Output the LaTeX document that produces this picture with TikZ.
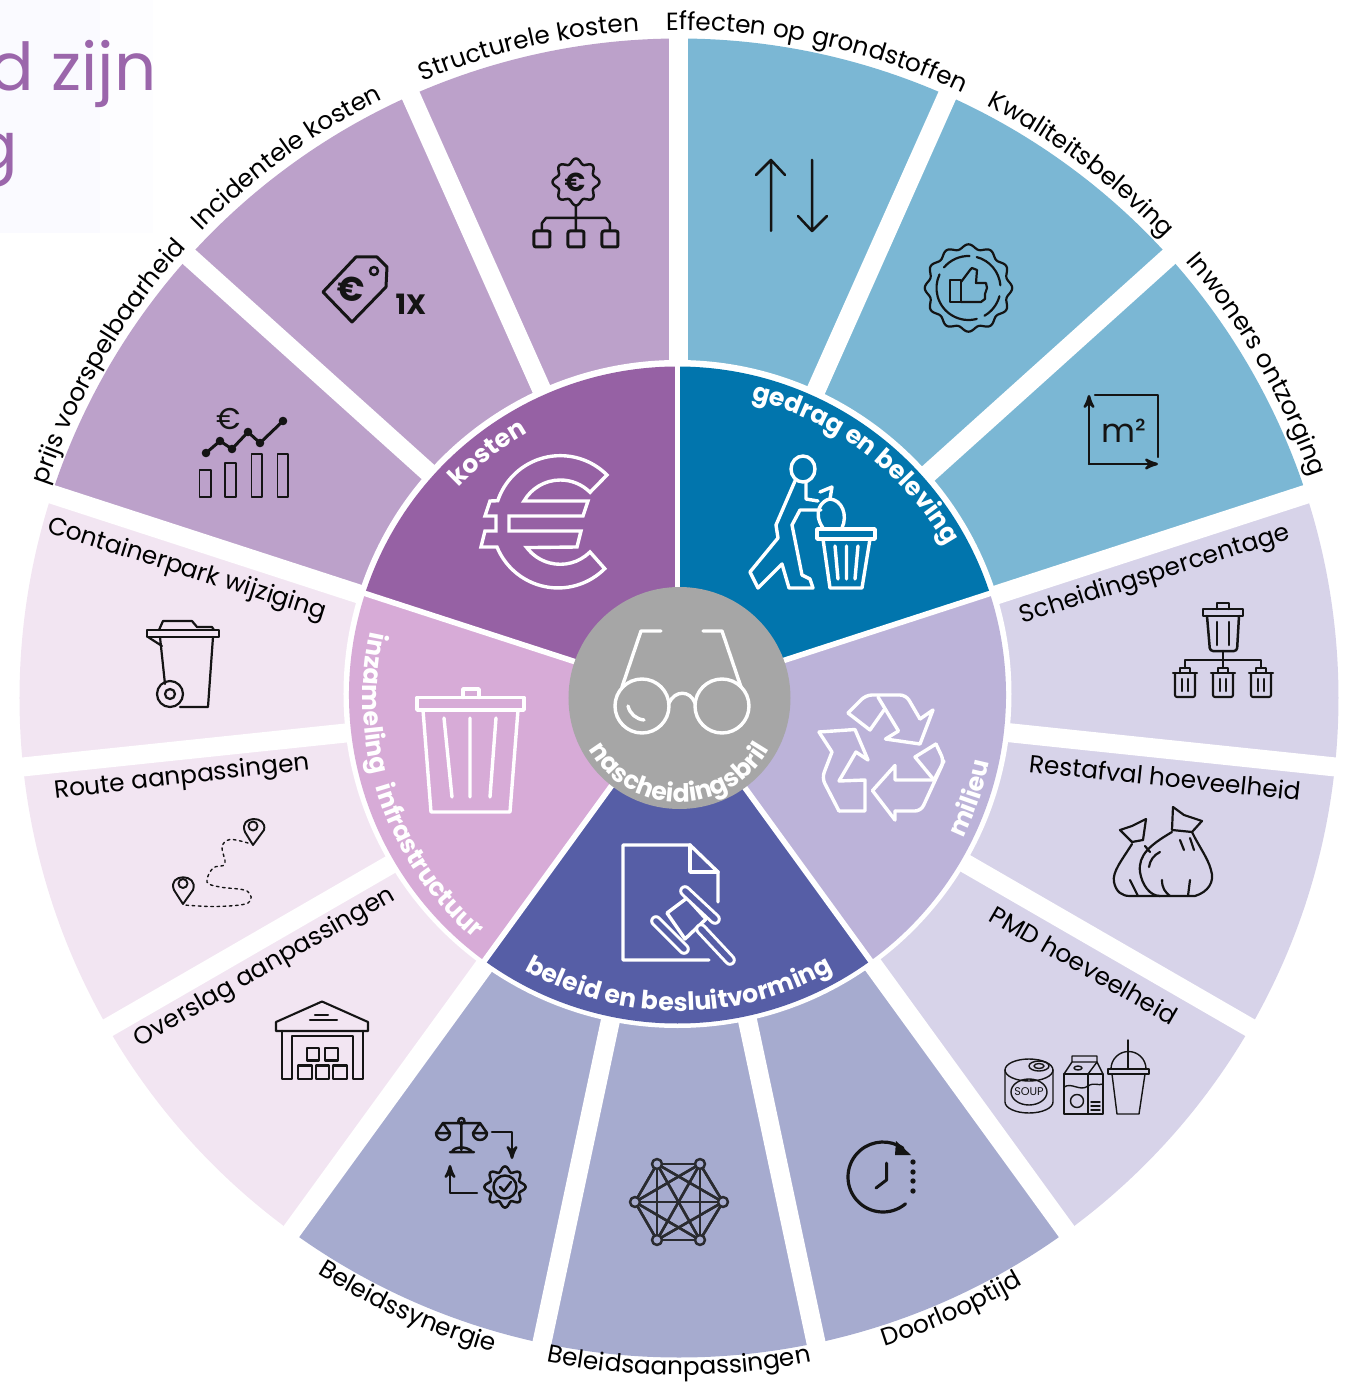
\documentclass[tikz,border=0pt]{standalone}
\usepackage{fontspec}
\setmainfont{Poppins}
\usetikzlibrary{calc,arrows,decorations.text}

\definecolor{kostin}{HTML}{9661A4}
\definecolor{kostcell}{HTML}{BCA1CA}
\definecolor{gedin}{HTML}{0175AD}
\definecolor{gedcell}{HTML}{7BB7D4}
\definecolor{milin}{HTML}{BCB3D9}
\definecolor{milcell}{HTML}{D7D3E9}
\definecolor{belin}{HTML}{565EA6}
\definecolor{belcell}{HTML}{A6ABCF}
\definecolor{inzin}{HTML}{D7ABD7}
\definecolor{inzcell}{HTML}{F2E5F2}
\definecolor{brilgray}{HTML}{A6A6A6}
\definecolor{titlepurple}{HTML}{9B66AB}
\definecolor{inkblack}{HTML}{141414}

% text along an arc: radius, start angle, end angle, format, text
\newcommand{\arclabel}[5]{%
  \path[decorate,decoration={text along path,text align=center,
    text={|#4|#5}}] (#2:#1) arc[start angle=#2,end angle=#3,radius=#1];}
\newcommand{\outerfont}{\fontsize{12.4}{14}\selectfont\color{black}}
\newcommand{\innerfont}{\fontsize{12.6}{14}\selectfont\bfseries\color{white}}

\begin{document}
\begin{tikzpicture}[
    x = 0.5pt,
    y = 0.5pt,
    >=stealth',
    gapline/.style = {white, line width = 9.5pt},
    seamline/.style = {white, line width = 2.8pt},
    icon/.style = {draw = inkblack, line width = 1.25pt, line cap = round, line join = round},
    thinicon/.style = {draw = inkblack, line width = 0.7pt, line cap = round, line join = round},
    wicon/.style = {draw = white, line width = 1.7pt, line join = round, line cap = round},
    celltext/.style = {font = \fontsize{12.4}{14}\selectfont, text = black, inner sep = 0pt},
    pixel/.style = {shift = {(-679,698)}, yscale = -1}
  ]
  \useasboundingbox (-679,-684) rectangle (673,698);
  \coordinate (O) at (0,0);
  \coordinate (H) at (-1.5,3);

  % faint panel and title behind the wheel
  \begin{scope}[pixel]
    \fill[white!97!blue!60!white] (0,0) rectangle (100,233);
    \fill[white!98.5!blue!60!white] (100,0) rectangle (153,233);
    \node[anchor = base east, text = titlepurple, font = \fontsize{33}{36}\selectfont, inner sep = 0pt] (titleone) at (157,91) {d zijn};
    \node[anchor = base east, text = titlepurple, font = \fontsize{33}{36}\selectfont, inner sep = 0pt] (titletwo) at (19,170) {g};
  \end{scope}

  % outer cells
  \foreach \a/\col in {90/kostcell,114/kostcell,138/kostcell,162/inzcell,186/inzcell,210/inzcell,
      234/belcell,258/belcell,282/belcell,306/milcell,330/milcell,354/milcell,18/gedcell,42/gedcell,66/gedcell}
    \fill[\col] (\a:320) arc[start angle=\a,delta angle=24,radius=320]
      -- ({\a+24}:659.5) arc[start angle={\a+24},delta angle=-24,radius=659.5] -- cycle;
  \foreach \a in {18,42,...,354}
    \draw[gapline] (\a:320) -- (\a:672);
  \fill[white] (-1.5,4) circle[radius=334];

  % inner sectors
  \foreach \a/\col in {90/kostin,162/inzin,234/belin,306/milin,18/gedin}
    \fill[\col] (H) -- ++(\a:328.5) arc[start angle=\a,delta angle=72,radius=328.5] -- cycle;
  \foreach \a in {18,90,162,234,306}
    \draw[seamline] (H) -- ++(\a:334);
  \fill[brilgray] (0.5,0) circle[radius=111];

  % labels on the rim
  \arclabel{668}{143}{63}{\outerfont}{Structurele kosten}
  \arclabel{668}{118}{38}{\outerfont}{Effecten op grondstoffen}
  \arclabel{668}{93}{13}{\outerfont}{Kwaliteitsbeleving}
  \arclabel{669}{70}{-10}{\outerfont}{Inwoners ontzorging}
  \arclabel{667}{190}{109}{\outerfont}{prijs voorspelbaarheid}
  \arclabel{668}{166}{86}{\outerfont}{Incidentele kosten}
  \arclabel{680}{206}{286}{\outerfont}{Beleidssynergie}
  \arclabel{677}{230}{310}{\outerfont}{Beleidsaanpassingen}
  \arclabel{680}{254}{334}{\outerfont}{Doorlooptijd}

  % labels in the sectors
  \arclabel{305}{178}{78}{\innerfont}{kosten}
  \arclabel{307}{103}{3}{\innerfont}{gedrag en beleving}
  \arclabel{317}{-60}{22}{\innerfont}{milieu}
  \arclabel{313}{222}{318}{\innerfont}{beleid en besluitvorming}
  \arclabel{316}{131}{231}{\innerfont}{inzameling}
  \arclabel{316}{163}{263}{\innerfont}{infrastructuur}
  \arclabel{104}{190}{350}{\innerfont}{nascheidingsbril}

  \begin{scope}[pixel]
    % labels inside the cells
    \node[celltext, rotate = -17.5] (containerlab) at (187,570) {Containerpark wijziging};
    \node[celltext, rotate = 6.5] (routelab) at (182,778) {Route aanpassingen};
    \node[celltext, rotate = 30] (overslaglab) at (265,968) {Overslag aanpassingen};
    \node[celltext, rotate = 17.5] (scheidinglab) at (1155,575) {Scheidingspercentage};
    \node[celltext, rotate = -6] (restlab) at (1165,777) {Restafval hoeveelheid};
    \node[celltext, rotate = -30] (pmdlab) at (1084,965) {PMD hoeveelheid};

    % euro sign
    \draw[wicon, line join = miter] (607,475) arc[start angle=-45,end angle=-161.5,radius=66]
      -- (490,501) -- (485,516) -- (496,516) -- (496,531) -- (485,531) -- (481,547) -- (497,547)
      arc[start angle=157.7,end angle=45,radius=66] -- (590,552)
      arc[start angle=45,end angle=143,radius=42] -- (577,547) -- (581,531) -- (509,531) -- (509,516)
      -- (583,516) -- (588,501) -- (524,501) arc[start angle=-150,end angle=-45,radius=42] -- cycle;

    % person with bag and bin
    \draw[wicon] (803,469) ellipse[x radius=12,y radius=13];
    \draw[wicon] (795,481) -- (776,525) -- (778,538) -- (750,572) -- (758,588) -- (782,564) -- (789,588)
      -- (813,588) -- (810,579) -- (802,575) -- (792,525) -- (800,510) -- (821,510);
    \draw[wicon] (806,482) -- (806,499) -- (818,501);
    \draw[wicon] (823,528) .. controls (812,512) and (822,500) .. (830,499) .. controls (842,500) and (848,515) .. (842,528);
    \draw[wicon] (820,492) -- (832,487) -- (830,499);
    \draw[wicon] (817,529) rectangle (875,539);
    \draw[wicon] (823,539) -- (830,588) -- (862,588) -- (870,539);
    \draw[wicon] (835,546) -- (838,579) (846.5,546) -- (846.5,579) (858,546) -- (855,579);

    % glasses
    \draw[wicon] (642,706) circle[radius=27] (722,706) circle[radius=27];
    \draw[wicon] (669,703) .. controls (675,690) and (690,690) .. (695,703);
    \draw[wicon] (622,687) -- (641,631) -- (661,631);
    \draw[wicon] (741,687) -- (722,631) -- (703,631);
    \draw[wicon] (628,706) .. controls (630,714) and (636,719) .. (644,720);

    % recycling arrows
    \draw[wicon, rounded corners = 3pt] (848,713) -- (866,695) -- (906,695) -- (920,719);
    \draw[wicon] (920,719) -- (933,710) -- (920,744) -- (885.5,739) -- (898.5,731) -- (878,697);
    \draw[wicon] (848,713) -- (870,730) -- (884,710);
    \draw[wicon] (819,732) -- (855,729.5) -- (868,760) -- (856,752) -- (839,781);
    \draw[wicon, rounded corners = 3pt] (839,811) -- (822,778) -- (832,752);
    \draw[wicon] (832,752) -- (819,732) (839,781) -- (865,780) -- (865,811) -- (839,811);
    \draw[wicon] (872.5,790.6) -- (895,765.5) -- (895,780) -- (934,780);
    \draw[wicon] (934,780) -- (915,757) -- (936,744);
    \draw[wicon, rounded corners = 3pt] (936,744) -- (944,761) -- (921,811) -- (895,811);
    \draw[wicon] (895,811) -- (895,820) -- (872.5,790.6) (934,780) -- (944,761);

    % document with gavel
    \draw[wicon] (709,960) -- (623,960) -- (623,845) -- (690,845) -- (718,872) -- (718,902);
    \draw[wicon] (690,845) -- (690,872) -- (718,872);
    \fill[belin] (665,912) -- (688,892) -- (712,918) -- (690,942) -- cycle;
    \draw[wicon] (667,913) -- (687,898) -- (706,919) -- (685,939) -- cycle;
    \draw[white, line width = 5.8pt, line cap = round] (701,929) -- (730,960) (685,891) -- (715,919) (656,921) -- (684,949);
    \draw[belin, line width = 2.8pt, line cap = round] (701,929) -- (730,960) (685,891) -- (715,919) (656,921) -- (684,949);

    % dustbin
    \draw[wicon] (417,697.5) rectangle (524,710);
    \draw[wicon] (463,697.5) -- (463,689) -- (479,689) -- (479,697.5);
    \draw[wicon] (423,710) -- (431,812) -- (510,812) -- (518,710);
    \draw[wicon] (444,718) -- (452,797) (470,718) -- (470,797) (496,718) -- (490,797);

    % gear with euro above a tree
    \draw[icon, shift = {(576,182)}, domain = 0:360, samples = 97, smooth] plot (\x:{21+2.5*cos(8*\x)}) -- cycle;
    \node[inner sep = 0pt, text = inkblack, font = \fontsize{13}{14}\selectfont\bfseries] (gearEuro) at (575,182) {€};
    \draw[icon] (576,206) -- (576,230) (542,230) -- (542,223) -- (546,218) -- (606,218) -- (610,223) -- (610,230);
    \foreach \bx in {542,576,610}
      \draw[icon, line width = 1.5pt, rounded corners = 1pt] (\bx-8,231) rectangle (\bx+8,247);

    % price tag
    \draw[icon, line width = 1.5pt] (323,292) -- (356,257) -- (377,257) -- (387,267) -- (386,287) -- (352,322) -- cycle;
    \draw[icon] (374,271) circle[radius=4];
    \node[inner sep = 0pt, rotate = -10, text = inkblack, font = \fontsize{17}{18}\selectfont\bfseries] (tagEuro) at (351,289) {€};
    \node[inner sep = 0pt, text = inkblack, font = \fontsize{14}{15}\selectfont\bfseries] (onceLab) at (411,304) {1X};

    % price chart
    \node[inner sep = 0pt, text = inkblack, font = \fontsize{15}{16}\selectfont] (chartEuro) at (229,419) {€};
    \draw[icon, line width = 1.5pt] (206,453) -- (220,441) -- (232,449) -- (248,432) -- (260,443) -- (283,421);
    \foreach \px/\py in {206/453,220/441,232/449,248/432,260/443,283/421}
      \fill[inkblack] (\px,\py) circle[radius=4.3];
    \draw[thinicon] (199.5,470) rectangle (211,497) (225,463) rectangle (236,497)
      (251.5,454) rectangle (262,497) (277.5,454) rectangle (288,497);

    % arrows up and down
    \draw[icon] (771,231) -- (771,160) (756,175) -- (771,160) -- (785,175);
    \draw[icon] (812,160) -- (812,231) (798,216) -- (812,231) -- (827,216);

    % badge with thumb
    \draw[thinicon, line width = 1.1pt, shift = {(968.5,288)}, domain = 0:360, samples = 145, smooth] plot (\x:{41.5+2.2*cos(12*\x)}) -- cycle;
    \draw[thinicon, line width = 1.1pt] (968.5,288) ++(-75:32) arc[start angle=-75,end angle=-5,radius=32];
    \draw[thinicon, line width = 1.1pt] (968.5,288) ++(15:32) arc[start angle=15,end angle=60,radius=32];
    \draw[thinicon, line width = 1.1pt] (968.5,288) ++(75:32) arc[start angle=75,end angle=205,radius=32];
    \draw[thinicon, line width = 1.1pt] (968.5,288) ++(220:32) arc[start angle=220,end angle=272,radius=32];
    \draw[thinicon, line width = 1.1pt] (950,280) rectangle (961,302);
    \draw[thinicon, line width = 1.1pt] (961,282) -- (970,270) -- (972,268) -- (977,270) -- (976,283) -- (986,283) -- (987,288)
      -- (985,294) -- (985,299) -- (981,302) -- (961,302);

    % area
    \draw[icon, ->] (1089,464) -- (1089,395);
    \draw[icon, ->] (1089,464) -- (1158,464);
    \draw[icon] (1095,395) -- (1158,395) -- (1158,457);
    \node[inner sep = 0pt, text = inkblack, font = \fontsize{16.5}{18}\selectfont] (areaLab) at (1124,431) {m²};

    % bins in a tree
    \draw[icon] (1203,609) rectangle (1243,616);
    \draw[icon] (1217,609) -- (1217,603) -- (1229,603) -- (1229,609);
    \draw[icon, rounded corners = 1.5pt] (1207,616) -- (1210,651) -- (1237,651) -- (1239,616);
    \draw[icon] (1217,622) -- (1217,645) (1229,622) -- (1229,645);
    \draw[icon] (1223,651) -- (1223,668) (1185,668) -- (1185,660) -- (1261,660) -- (1261,668);
    \foreach \bx in {1185,1223,1261} {
      \draw[icon, line width = 1.05pt] (\bx-12,673) -- (\bx+12,673) (\bx-5,673) -- (\bx-5,668) -- (\bx+5,668) -- (\bx+5,673);
      \draw[icon, line width = 1.05pt, rounded corners = 1pt] (\bx-10,673) -- (\bx-10,697) -- (\bx+10,697) -- (\bx+10,673);
      \draw[icon, line width = 1.05pt] (\bx-3,679) -- (\bx-3,691) (\bx+3,679) -- (\bx+3,691);
    }

    % waste bags
    \draw[thinicon, line width = 1.1pt] (1172,832) .. controls (1150,845) and (1138,855) .. (1140,872) .. controls (1142,885) and (1150,896) .. (1160,896)
      -- (1195,896) .. controls (1208,892) and (1215,882) .. (1211,870) .. controls (1208,858) and (1198,845) .. (1192,832);
    \draw[thinicon, line width = 1.1pt] (1172,830) -- (1173,807) -- (1184,815) -- (1202,821) -- (1192,832) -- cycle;
    \draw[thinicon, line width = 1.1pt] (1132,844) .. controls (1122,860) and (1112,872) .. (1114,882) .. controls (1116,892) and (1122,896) .. (1130,896) -- (1160,896);
    \draw[thinicon, line width = 1.1pt] (1145,846) -- (1150,852);
    \draw[thinicon, line width = 1.1pt] (1132,842) -- (1120,830) -- (1132,826) -- (1146,819) -- (1143,840) -- cycle;
    \draw[thinicon, line width = 1.1pt] (1149,867) .. controls (1150,860) and (1154,855) .. (1160,852);
    \draw[thinicon, line width = 1.1pt] (1162,880) .. controls (1162,888) and (1165,892) .. (1170,896);
    \draw[thinicon, line width = 1.1pt] (1190,880) -- (1188,896) (1180,840) -- (1184,850) (1190,838) -- (1194,850);
    \draw[thinicon, line width = 1.1pt] (1130,880) -- (1138,896);

    % can, carton and cup
    \draw[thinicon] (1029,1070) ellipse[x radius=24,y radius=11];
    \draw[thinicon] (1005,1070) -- (1005,1102) arc[start angle=180,end angle=0,x radius=24,y radius=11] -- (1053,1070);
    \draw[thinicon] (1039,1066) ellipse[x radius=10,y radius=5] (1039,1066) ellipse[x radius=5,y radius=2.5];
    \draw[thinicon] (1029,1092) ellipse[x radius=18,y radius=13];
    \node[inner sep = 0pt, text = inkblack, font = \fontsize{5.6}{6}\selectfont] (soupLab) at (1029,1092) {SOUP};
    \draw[thinicon] (1064,1074) rectangle (1088,1114) (1088,1074) rectangle (1103,1114);
    \draw[thinicon] (1064,1074) -- (1072,1062) -- (1097,1062) -- (1103,1074) (1072,1062) -- (1072,1056) -- (1097,1056) -- (1097,1062);
    \draw[thinicon] (1088,1074) -- (1097,1062) (1078,1068) ellipse[x radius=4,y radius=2];
    \draw[thinicon] (1064,1087) .. controls (1072,1082) and (1080,1092) .. (1088,1086) .. controls (1094,1082) and (1098,1086) .. (1103,1084);
    \draw[thinicon] (1077,1101) circle[radius=6.5];
    \draw[thinicon] (1091,1102) -- (1100,1102) (1091,1106) -- (1100,1106) (1091,1110) -- (1100,1110);
    \draw[thinicon] (1108,1069) rectangle (1149,1074);
    \draw[thinicon] (1111,1069) arc[start angle=180,end angle=360,radius=17.5];
    \draw[thinicon] (1128,1040) -- (1128,1069);
    \draw[thinicon] (1112,1074) -- (1117,1114) -- (1139,1114) -- (1145,1074);

    % clock
    \draw[icon, line width = 1.6pt] (883,1177) ++(50:35) arc[start angle=50,end angle=305,radius=35];
    \fill[inkblack] (896,1141) -- (911,1155) -- (895,1155) -- cycle;
    \foreach \dy in {1162,1172,1181,1191}
      \fill[inkblack] (913,\dy) circle[radius=2.7];
    \draw[icon, line width = 1.5pt] (886.5,1163) -- (886.5,1180) -- (876,1188);

    % network
    \foreach \na/\nb in {657/1164,700/1164,723/1202,700/1240,657/1240,635/1202}
      \foreach \nc/\nd in {657/1164,700/1164,723/1202,700/1240,657/1240,635/1202}
        \draw[icon, draw = inkblack!85!belcell] (\na,\nb) -- (\nc,\nd);
    \foreach \na/\nb in {657/1164,700/1164,723/1202,700/1240,657/1240,635/1202}
      \draw[icon, draw = inkblack!85!belcell, fill = belcell] (\na,\nb) circle[radius=5];

    % balance, arrows and gear
    \draw[icon] (461.4,1122) -- (461.4,1150) (443,1123) -- (480,1123) (461.4,1121) circle[radius=3];
    \draw[icon] (450,1152) -- (474,1152) (452,1152) .. controls (454,1146) and (468,1146) .. (472,1152);
    \draw[icon] (436,1133) -- (450,1133) arc[start angle=0,end angle=180,radius=7] -- cycle;
    \draw[icon] (473,1133) -- (487,1133) arc[start angle=0,end angle=180,radius=7] -- cycle;
    \draw[icon] (436,1133) -- (443,1123) -- (450,1133) (473,1133) -- (480,1123) -- (487,1133);
    \draw[icon, ->] (492,1132) -- (512,1132) -- (512,1159);
    \draw[icon, ->] (477,1193) -- (450,1193) -- (450,1165);
    \draw[icon, shift = {(505,1187)}, domain = 0:360, samples = 97, smooth] plot (\x:{18+2.6*cos(8*\x)}) -- cycle;
    \draw[icon] (505,1187) circle[radius=11.5];
    \draw[icon] (500,1187) -- (504,1191) -- (511,1182);

    % wheelie bin
    \draw[icon, line width = 1.1pt] (147,630) rectangle (219,637);
    \draw[icon, line width = 1.1pt] (159,630) -- (163,621) -- (192,621) -- (197,627) -- (212,627) -- (214,630);
    \draw[icon, line width = 1.1pt] (148,637) -- (162,646) (160,637) -- (165,684);
    \draw[icon, line width = 1.1pt] (213,637) -- (208,707) -- (180,707);
    \draw[icon, line width = 1.1pt] (170,694) circle[radius=13] (170,694) circle[radius=5];

    % route with two pins
    \draw[thinicon, line width = 0.95pt] (253,845) -- (245,832) .. controls (238,815) and (268,815) .. (264,830) -- cycle;
    \draw[thinicon, line width = 0.95pt] (253,826) circle[radius=4.5];
    \draw[thinicon, line width = 0.95pt] (183,904) -- (174,890) .. controls (167,873) and (199,873) .. (193,890) -- cycle;
    \draw[thinicon, line width = 0.95pt] (183,883.5) circle[radius=4.5];
    \draw[thinicon, dash pattern = on 1.3pt off 1.8pt] plot[smooth, tension = 0.6] coordinates {(248,843) (230,839.5) (222,847) (225,864) (213,868) (207,882) (220,887) (247,891) (248,903) (217,906.5) (184,905)};

    % warehouse
    \draw[icon, line width = 1.05pt] (276,1031) -- (276,1022) -- (322,1001.5) -- (368,1022) -- (368,1031) -- cycle;
    \draw[icon, line width = 1.05pt] (315,1015) -- (328,1015) (310,1020) -- (337,1020);
    \draw[icon, line width = 1.05pt] (282,1031) -- (282,1079) -- (292,1079) -- (292,1036) -- (353,1036) -- (353,1079) -- (363,1079) -- (363,1031);
    \draw[icon, line width = 1.05pt] (307,1048) rectangle (319,1060.5) (325,1048) rectangle (338,1060.5)
      (298,1065.5) rectangle (312,1079) (316,1065.5) rectangle (329,1079) (333,1065.5) rectangle (347,1079);
  \end{scope}
\end{tikzpicture}
\end{document}
